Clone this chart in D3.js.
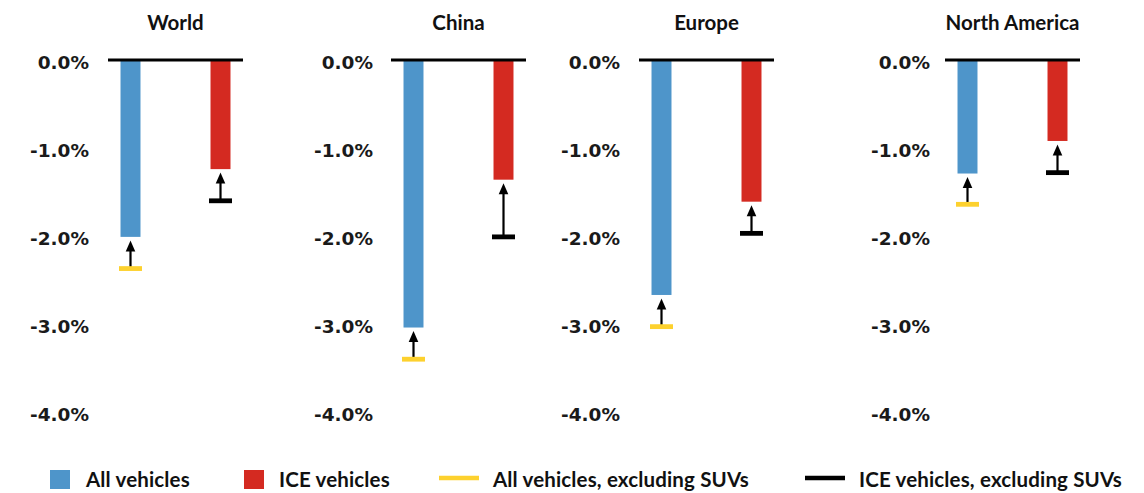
<!DOCTYPE html>
<html>
<head>
<meta charset="utf-8">
<script src="https://cdn.jsdelivr.net/npm/d3@7"></script>
<style>
  html, body { margin: 0; padding: 0; background: #fff; }
  svg { display: block; }
</style>
</head>
<body>
<svg id="chart" width="1144" height="493"></svg>
<script>
// ---- data ----
const regions = ["World", "China", "Europe", "North America"];
const vehicleTypes = ["All vehicles", "ICE vehicles"];
const allVehicles = [-2.01, -3.04, -2.67, -1.29];
const iceVehicles = [-1.24, -1.36, -1.61, -0.92];
const allExclSUV = [-2.37, -3.40, -3.03, -1.64];
const iceExclSUV = [-1.60, -2.01, -1.97, -1.28];
const tickValues = [0, -1, -2, -3, -4];
const tickLabels = ["0.0%", "-1.0%", "-2.0%", "-3.0%", "-4.0%"];
const legendLabels = ["All vehicles", "ICE vehicles", "All vehicles, excluding SUVs", "ICE vehicles, excluding SUVs"];

// ---- layout ----
const colors = { all: "#4e95ca", ice: "#d42a21", allEx: "#fdd12e", iceEx: "#000" };
const panelX = [108, 391, 639, 945];
const labelGap = [19, 18, 19, 15];
const plotW = 135;
const svg = d3.select("#chart");
const lato = "Lato, 'Open Sans', sans-serif";

const y = d3.scaleLinear().domain([0, -4]).range([60, 412]);
const x = d3.scaleBand().domain(vehicleTypes).range([0, plotW]).paddingInner(0.778).paddingOuter(0.139);

regions.forEach((name, i) => {
  const g = svg.append("g").attr("transform", `translate(${panelX[i]},0)`);

  g.append("text").attr("x", plotW / 2).attr("y", 30)
    .attr("text-anchor", "middle")
    .style("font-family", lato).style("font-size", "20.5px").style("font-weight", 700).style("fill", "#111")
    .text(name);

  const axis = d3.axisLeft(y).tickValues(tickValues)
    .tickFormat((d, k) => tickLabels[k]).tickSize(0).tickPadding(labelGap[i]);
  const ag = g.append("g").call(axis);
  ag.select(".domain").remove();
  ag.selectAll("text")
    .style("font-family", "'DejaVu Sans', sans-serif").style("font-size", "18.5px")
    .style("font-weight", 700).style("fill", "#1a1a1a").attr("dy", "0.45em");

  const bars = [
    { type: vehicleTypes[0], v: allVehicles[i], ex: allExclSUV[i], c: colors.all, mc: colors.allEx },
    { type: vehicleTypes[1], v: iceVehicles[i], ex: iceExclSUV[i], c: colors.ice, mc: colors.iceEx }
  ];

  g.selectAll("rect.bar").data(bars).join("rect").attr("class", "bar")
    .attr("x", d => x(d.type)).attr("width", x.bandwidth())
    .attr("y", y(0)).attr("height", d => y(d.v) - y(0))
    .attr("fill", d => d.c);

  bars.forEach(d => {
    const cx = x(d.type) + x.bandwidth() / 2;
    const yBar = y(d.v), yEx = y(d.ex);
    const tip = yBar + 3.5;
    const headH = 11;
    g.append("line").attr("x1", cx).attr("x2", cx)
      .attr("y1", yEx).attr("y2", tip + headH - 1)
      .attr("stroke", "#000").attr("stroke-width", 2.2);
    g.append("path")
      .attr("d", `M${cx},${tip} L${cx - 4.8},${tip + headH} L${cx + 4.8},${tip + headH} Z`)
      .attr("fill", "#000");
    g.append("line").attr("x1", cx - 11.5).attr("x2", cx + 11.5)
      .attr("y1", yEx).attr("y2", yEx)
      .attr("stroke", d.mc).attr("stroke-width", 4.8);
  });

  g.append("line").attr("x1", 0).attr("x2", plotW)
    .attr("y1", y(0)).attr("y2", y(0))
    .attr("stroke", "#000").attr("stroke-width", 3);
});

// ---- legend ----
const lg = svg.append("g");
const legendItems = [
  { label: legendLabels[0], kind: "rect", c: colors.all, x: 50, tx: 86 },
  { label: legendLabels[1], kind: "rect", c: colors.ice, x: 244, tx: 279 },
  { label: legendLabels[2], kind: "line", c: colors.allEx, x: 439, tx: 493 },
  { label: legendLabels[3], kind: "line", c: colors.iceEx, x: 805, tx: 859 }
];
legendItems.forEach(it => {
  if (it.kind === "rect") {
    lg.append("rect").attr("x", it.x).attr("y", 470).attr("width", 20).attr("height", 19).attr("fill", it.c);
  } else {
    lg.append("line").attr("x1", it.x).attr("x2", it.x + 40).attr("y1", 478).attr("y2", 478)
      .attr("stroke", it.c).attr("stroke-width", 4.5);
  }
  lg.append("text").attr("x", it.tx).attr("y", 487)
    .style("font-family", lato).style("font-size", "20.5px").style("font-weight", 700)
    .style("letter-spacing", "0.15px").style("fill", "#111")
    .text(it.label);
});
</script>
</body>
</html>
